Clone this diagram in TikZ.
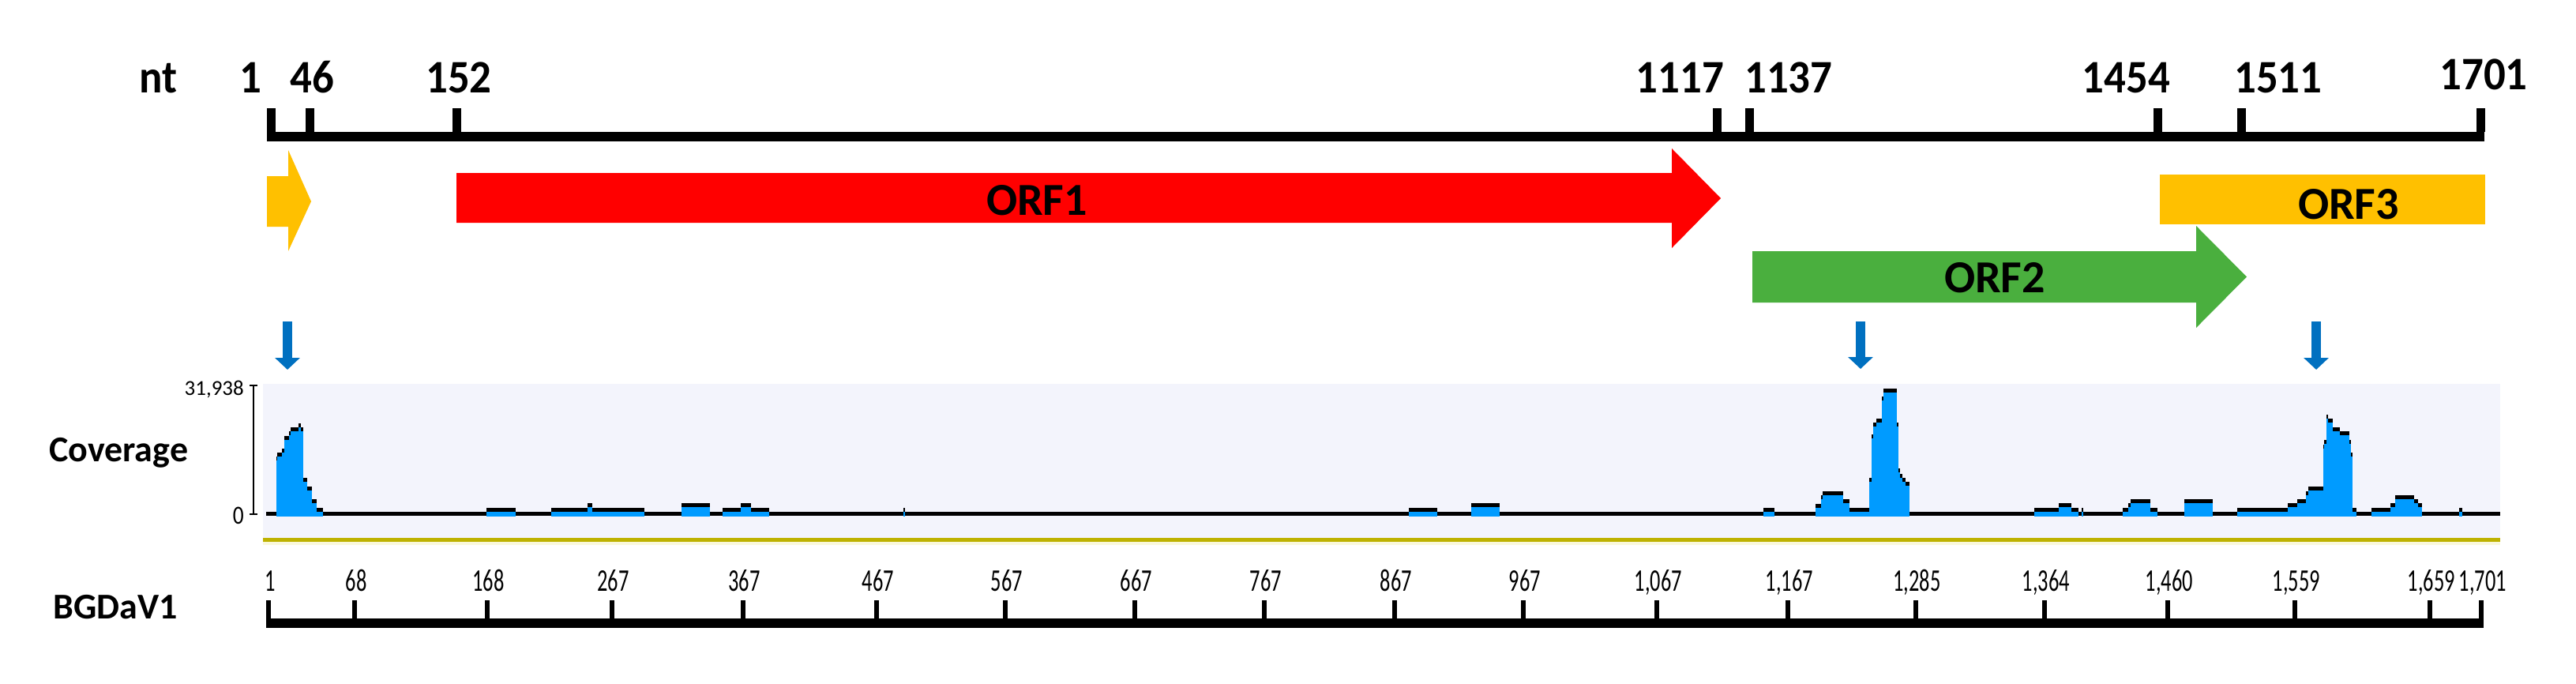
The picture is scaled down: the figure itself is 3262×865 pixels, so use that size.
\documentclass[tikz,border=0pt]{standalone}
\usepackage{fontspec}
\setmainfont{Carlito}
\newfontfamily\condfont[FakeStretch=0.66]{Carlito}
\newfontfamily\semicond[FakeStretch=0.83]{Carlito}
\newfontfamily\topfont[FakeStretch=0.93]{Carlito}
\usetikzlibrary{arrows.meta}
\definecolor{orfyellow}{RGB}{255,192,0}
\definecolor{orfred}{RGB}{255,0,0}
\definecolor{orfgreen}{RGB}{74,175,62}
\definecolor{markblue}{RGB}{0,112,192}
\definecolor{covblue}{RGB}{0,155,255}
\definecolor{panelbg}{RGB}{243,244,252}
\definecolor{olivebar}{RGB}{190,178,0}
\definecolor{glowbar}{RGB}{250,248,220}
\begin{document}
\begin{tikzpicture}[x=1pt,y=-1pt,
  toplab/.style={inner sep=0pt, font=\fontsize{59}{62}\selectfont\topfont\bfseries},
  orflab/.style={inner sep=0pt, font=\fontsize{58}{60}\selectfont\bfseries},
  sidelab/.style={inner sep=0pt, font=\fontsize{46}{50}\selectfont\bfseries, anchor=base west},
  axlab/.style={inner sep=0pt, font=\fontsize{40}{44}\selectfont\condfont, anchor=base},
  peakarrow/.style={draw=markblue, line width=12pt, -{Triangle[length=15pt,width=31pt]}},
]
\useasboundingbox (0,0) rectangle (3262,865);
\fill[white] (0,0) rectangle (3262,865);

% ---- top nucleotide axis ----
\fill[black] (338,167) rectangle (3146,179);
\foreach \x in {343.5,392,578,2174,2215.5,2732,2838,3141}
  \fill[black] (\x-5.5,137) rectangle (\x+5.5,167);
\node[toplab, anchor=base west] (nt) at (176,117) {nt};
\node[toplab, anchor=base] (t1) at (317,117) {1};
\node[toplab, anchor=base] (t46) at (395,117) {46};
\node[toplab, anchor=base] (t152) at (581,117) {152};
\node[toplab, anchor=base east] (t1117) at (2183,117) {1117};
\node[toplab, anchor=base west] (t1137) at (2209,117) {1137};
\node[toplab, anchor=base east] (t1454) at (2748,117) {1454};
\node[toplab, anchor=base west] (t1511) at (2829,117) {1511};
\node[toplab, anchor=base] (t1701) at (3145,113) {1701};

% ---- ORFs ----
\fill[orfyellow] (338,223) -- (365,223) -- (365,190) -- (394,255) -- (365,318) -- (365,287) -- (338,287) -- cycle;
\fill[orfred] (578,219) -- (2117,219) -- (2117,188) -- (2179,251) -- (2117,314) -- (2117,282) -- (578,282) -- cycle;
\fill[orfgreen] (2219,318) -- (2781,318) -- (2781,286) -- (2845,350.5) -- (2781,415) -- (2781,383) -- (2219,383) -- cycle;
\fill[orfyellow] (2735,221) rectangle (3147,284);
\node[orflab] (orf1) at (1313,254) {ORF1};
\node[orflab] (orf2) at (2526,351.5) {ORF2};
\node[orflab] (orf3) at (2974,258.5) {ORF3};

% ---- peak arrows ----
\coordinate (a1s) at (364,407); \coordinate (a1e) at (364,468);
\coordinate (a2s) at (2356,407); \coordinate (a2e) at (2356,467);
\coordinate (a3s) at (2933,407); \coordinate (a3e) at (2933,468);
\draw[peakarrow] (a1s) -- (a1e);
\draw[peakarrow] (a2s) -- (a2e);
\draw[peakarrow] (a3s) -- (a3e);

% ---- coverage panel ----
\fill[panelbg] (333,486) rectangle (3166,681);
\fill[olivebar] (333,681) rectangle (3166,686);
\fill[glowbar] (333,686) rectangle (3166,690);
\fill[black] (336.5,648) rectangle (3166,653);
\foreach \a/\b/\t in {
 349.5/351/578, 351/357/573, 357/359.5/568, 359.5/365.6/552, 365.6/368.2/546, 368.2/377.7/541,
 377.7/381.2/536, 381.2/384.2/541, 384.2/388.5/605, 388.5/395/616, 395/400.5/632, 400.5/409/643,
 616.2/653/643, 697.7/744.1/643, 744.1/749.8/637, 749.8/780.1/643, 780.1/815.7/643,
 862.5/899.4/637, 915.4/938.4/643, 938.4/951/637, 951/974/643,
 1143.5/1146/643, 1784/1820/643, 1863/1899/637,
 2232.7/2246.7/643,
 2299.3/2306/638, 2306/2308.3/627, 2308.3/2334.3/622, 2334.3/2341.7/632, 2341.7/2366.7/643,
 2366.7/2370/605, 2370/2371.7/550, 2371.7/2376/535, 2376/2382.7/530, 2382.7/2385/502,
 2385/2401.7/492, 2401.7/2404/535, 2404/2406/593, 2406/2409.3/600, 2409.3/2413.3/605, 2413.3/2418.3/610,
 2576/2606.7/643, 2606.7/2623.3/637, 2623.3/2631.7/643, 2636/2637.5/643,
 2688.3/2695/643, 2695/2698.3/637, 2698.3/2723.3/632, 2723.3/2731.7/643,
 2766/2801.7/632,
 2832.7/2896.7/643, 2896.7/2909.3/637, 2909.3/2920/632, 2920/2923.3/622, 2923.3/2941.7/616,
 2941.7/2943.3/563, 2943.3/2946/557, 2946/2948.3/525, 2948.3/2954/530, 2954/2963.3/541,
 2963.3/2975/546, 2975/2977.3/557, 2977.3/2979.3/573, 2979.3/2984/643,
 3003.3/3007.3/643, 3007.3/3026.7/643, 3026.7/3032.7/637, 3032.7/3057.3/627, 3057.3/3061.7/632,
 3061.7/3067.3/637, 3114/3118.3/643}
{
  \fill[covblue] (\a,\t) rectangle (\b,654);
  \fill[black] (\a,\t) rectangle (\b,\t+5);
}
% y axis
\draw[line width=2pt] (321,488) -- (321,651);
\draw[line width=2pt] (316,488) -- (326,488);
\draw[line width=2pt] (316,651) -- (326,651);
\node[inner sep=0pt, anchor=base east, font=\fontsize{27}{30}\selectfont] (ymax) at (309,500) {31,938};
\node[inner sep=0pt, anchor=base east, font=\fontsize{33}{36}\selectfont\semicond] (ymin) at (309,663) {0};

\node[sidelab] (cov) at (62,584) {Coverage};
\node[sidelab] (bgd) at (67,783) {BGDaV1};

% ---- bottom axis ----
\fill[black] (337,783) rectangle (3145,795);
\foreach \x/\l [count=\i] in {340/1, 449/68, 616.5/168, 774.5/267, 940.5/367, 1110/467, 1273/567,
  1437/667, 1601/767, 1766/867, 1929/967, 2098/{1,067}, 2264/{1,167}, 2425.5/{1,285},
  2589/{1,364}, 2745/{1,460}, 2906/{1,559}, 3077/{1,659}, 3142/{1,701}}
{
  \fill[black] (\x-3,760) rectangle (\x+3,783);
  \node[axlab] (b\i) at (\x+2,748) {\l};
}
\end{tikzpicture}
\end{document}
